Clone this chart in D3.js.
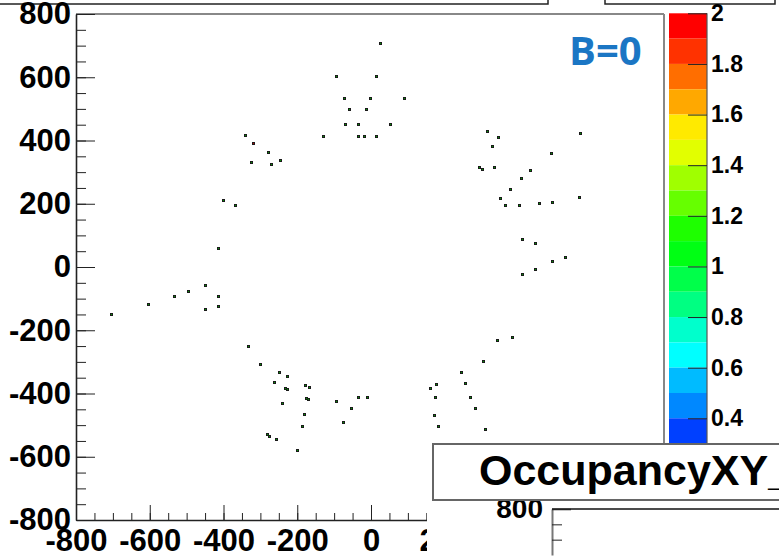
<!DOCTYPE html>
<html>
<head>
<meta charset="utf-8">
<script src="https://cdn.jsdelivr.net/npm/d3@7"></script>
<style>
  body { margin: 0; background: #fff; }
  svg { display: block; font-family: "Liberation Sans", Arial, sans-serif; font-weight: bold; }
</style>
</head>
<body>
<div id="chart"></div>
<script>
// occupancy hits (x, y in mm) and bin content
const pointX = [25, -94, 14, -74, -3, 89, -59, -13, -70, -36, 51, -343, -319, -280, -326, -270, -246,
  -130, -36, -18, 14, 315, 345, 327, 568, 488, 294, 300, 333, 432, 407, 376, 351, 363, 401, 455, 491,
  565, 410, 445, 526, 491, 445, 410, -401, -370, -416, -451, -497, -533, -416, -604, -416, -451, -706,
  -334, -301, -250, -229, -262, -232, -227, -178, -169, -176, -170, -242, -95, -36, -11, -54, -75,
  -181, -186, -281, -276, -258, -201, 341, 383, 305, 244, 160, 177, 254, 174, 269, 282, 172, 183, 310];
const pointY = [708, 605, 605, 533, 533, 533, 499, 499, 451, 451, 451, 417, 391, 363, 332, 327, 338,
  415, 415, 415, 415, 430, 412, 383, 424, 360, 315, 309, 317, 306, 281, 246, 219, 196, 196, 201, 205,
  222, 89, 77, 33, 18, -6, -23, 211, 196, 59, -56, -77, -92, -91, -118, -124, -133, -148,
  -251, -308, -332, -344, -365, -382, -386, -373, -379, -415, -418, -429, -424, -412, -412, -447, -491,
  -466, -504, -529, -533, -545, -578, -231, -222, -296, -331, -383, -371, -368, -412, -412, -445, -468, -504, -512];
const pointZ = pointX.map((d, i) => i === 12 ? 2 : 1);

const axisTicks = [-800, -600, -400, -200, 0, 200, 400, 600, 800];
const minorTicks = d3.range(-800, 801, 50);

// colour palette: lower edge of each band, and its colour
const bandLow = [1.9, 1.8, 1.7, 1.6, 1.5, 1.4, 1.3, 1.2, 1.1, 1.0, 0.9, 0.8, 0.7, 0.6, 0.5, 0.4, 0.3];
const bandColor = ['#ff0000', '#ff3200', '#ff6e00', '#ffa800', '#ffea00', '#e2ff00', '#a0ff00', '#66ff00',
  '#1eff00', '#00ff14', '#00ff4a', '#00ff82', '#00ffcc', '#00ffff', '#00bbff', '#0088ff', '#0040ff'];
const paletteTicks = [0.4, 0.6, 0.8, 1, 1.2, 1.4, 1.6, 1.8, 2];

const width = 779, height = 556;
const svg = d3.select('#chart').append('svg')
  .attr('width', width).attr('height', height);

const x = d3.scaleLinear().domain([-800, 800]).range([76, 666]);
const y = d3.scaleLinear().domain([-800, 800]).range([520, 14]);
const z = d3.scaleLinear().domain([0.4, 2]).range([418.3, 13.3]);
const plain = d => String(d);  // hyphen-minus like ROOT, not U+2212

// boxes of the neighbouring pads at the top
svg.append('rect').attr('x', -10).attr('y', -20).attr('width', 558).attr('height', 24)
  .attr('fill', '#fff').attr('stroke', '#222').attr('stroke-width', 1.5);
svg.append('rect').attr('x', 605).attr('y', -20).attr('width', 170).attr('height', 24)
  .attr('fill', '#fff').attr('stroke', '#222').attr('stroke-width', 1.5);

// frame (top and right)
svg.append('line').attr('x1', 76).attr('x2', 664).attr('y1', 14).attr('y2', 14)
  .attr('stroke', '#888').attr('stroke-width', 2);
svg.append('line').attr('x1', 664).attr('x2', 664).attr('y1', 14).attr('y2', 520)
  .attr('stroke', '#888').attr('stroke-width', 2);

// minor ticks
svg.append('g').attr('transform', 'translate(0,520)')
  .call(d3.axisBottom(x).tickValues(minorTicks).tickSizeInner(-7).tickSizeOuter(0).tickFormat(''))
  .call(g => g.select('.domain').remove());
svg.append('g').attr('transform', 'translate(76,0)')
  .call(d3.axisLeft(y).tickValues(minorTicks).tickSizeInner(-10).tickSizeOuter(0).tickFormat(''))
  .call(g => g.select('.domain').remove());

// major ticks + labels
const xAxis = svg.append('g').attr('transform', 'translate(0,520)')
  .call(d3.axisBottom(x).tickValues(axisTicks).tickFormat(plain)
    .tickSizeInner(-15).tickSizeOuter(0).tickPadding(9));
const yAxis = svg.append('g').attr('transform', 'translate(76,0)')
  .call(d3.axisLeft(y).tickValues(axisTicks).tickFormat(plain)
    .tickSizeInner(-19).tickSizeOuter(0).tickPadding(5));
[xAxis, yAxis].forEach(g => {
  g.selectAll('text').attr('font-size', 31).attr('font-weight', 'bold').attr('fill', '#000')
    .attr('font-family', '"Liberation Sans", Arial, sans-serif');
  g.select('.domain').attr('stroke', '#222').attr('stroke-width', 1.6);
});
svg.selectAll('.tick line').attr('stroke', '#222');

// hits
svg.append('g').selectAll('rect').data(pointX.map((d, i) => [d, pointY[i], pointZ[i]]))
  .join('rect')
  .attr('x', d => Math.round(x(d[0])) - 0.5)
  .attr('y', d => Math.round(y(d[1])) - 0.5)
  .attr('width', 2).attr('height', 2)
  .attr('fill', d => d[2] > 1.5 ? '#c00000' : '#00a000')
  .attr('stroke', '#1a1a1a').attr('stroke-width', 1);

// label
svg.append('text').attr('x', 569).attr('y', 65)
  .attr('fill', '#1b76c4').attr('font-size', 40).attr('font-weight', 'bold')
  .attr('font-family', '"Open Sans", "Liberation Sans", sans-serif')
  .text('B=0');

// palette
const pal = svg.append('g');
pal.selectAll('rect').data(bandLow).join('rect')
  .attr('x', 669).attr('width', 38)
  .attr('y', d => z(d + 0.1))
  .attr('height', d => z(d) - z(d + 0.1))
  .attr('fill', (d, i) => bandColor[i]);
pal.append('line').attr('x1', 707).attr('x2', 707).attr('y1', 13.3).attr('y2', 444)
  .attr('stroke', '#555').attr('stroke-width', 1.2);
const zAxis = svg.append('g').attr('transform', 'translate(707,0)')
  .call(d3.axisRight(z).tickValues(paletteTicks).tickSizeInner(-19).tickSizeOuter(0).tickPadding(4)
    .tickFormat(d3.format('~g')));
zAxis.select('.domain').remove();
zAxis.selectAll('.tick line').attr('stroke', '#222');
zAxis.selectAll('text').attr('font-size', 23).attr('font-weight', 'bold').attr('fill', '#000')
  .attr('font-family', '"Liberation Sans", Arial, sans-serif');

// lower pad
svg.append('rect').attr('x', 427).attr('y', 500).attr('width', 360).attr('height', 60).attr('fill', '#fff');
const y2 = d3.scaleLinear().domain([800, 650]).range([509, 555]);
svg.append('line').attr('x1', 552).attr('x2', 790).attr('y1', 509).attr('y2', 509)
  .attr('stroke', '#111').attr('stroke-width', 1.5);
const y2minor = svg.append('g').attr('transform', 'translate(552,0)')
  .call(d3.axisLeft(y2).tickValues([800, 750, 700]).tickSizeInner(-10).tickSizeOuter(0).tickFormat(''));
y2minor.select('.domain').attr('stroke', '#777').attr('stroke-width', 2);
const y2axis = svg.append('g').attr('transform', 'translate(552,0)')
  .call(d3.axisLeft(y2).tickValues([800]).tickFormat(plain)
    .tickSizeInner(-19).tickSizeOuter(0).tickPadding(9));
y2axis.select('.domain').remove();
y2axis.selectAll('.tick line').attr('stroke-width', 1.5);
y2axis.selectAll('text').attr('font-size', 28).attr('font-weight', 'bold').attr('fill', '#000')
  .attr('font-family', '"Liberation Sans", Arial, sans-serif');
svg.selectAll('g .tick line').attr('stroke', '#222');

// title box
svg.append('rect').attr('x', 433).attr('y', 444).attr('width', 370).attr('height', 56)
  .attr('fill', '#fff').attr('stroke', '#666').attr('stroke-width', 2);
svg.append('text').attr('x', 479).attr('y', 485)
  .attr('font-size', 43).attr('font-weight', 'bold').attr('fill', '#000')
  .text('OccupancyXY_B0');
</script>
</body>
</html>
